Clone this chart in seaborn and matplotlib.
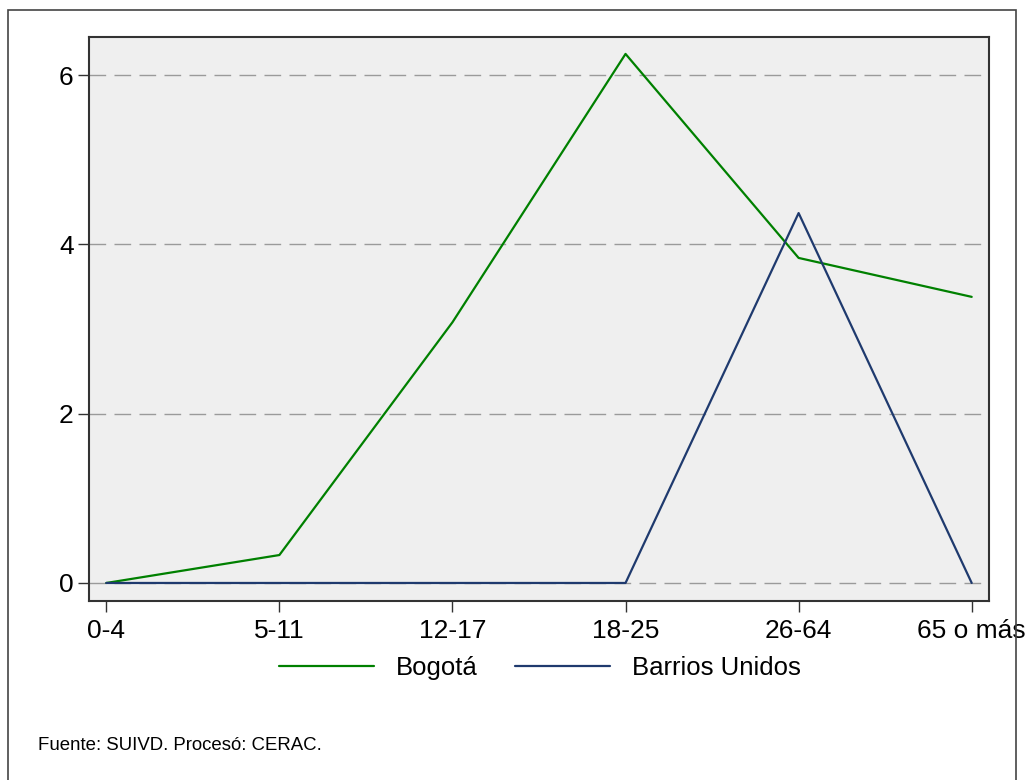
import matplotlib
matplotlib.use('Agg')

import matplotlib.pyplot as plt
import matplotlib.patches as mpatches
import pandas as pd
import seaborn as sns

# =========================================================
# DATA
# =========================================================

age_groups = ['0-4', '5-11', '12-17', '18-25', '26-64', '65 o más']
bogota = [0.0, 0.33, 3.08, 6.25, 3.84, 3.38]
barrios_unidos = [0.0, 0.0, 0.0, 0.0, 4.37, 0.0]
series_names = ['Bogotá', 'Barrios Unidos']
series_colors = ['#008000', '#1f3a6e']
y_ticks = [0, 2, 4, 6]
source_note = 'Fuente: SUIVD. Procesó: CERAC.'

df = pd.DataFrame({
    'pos': list(range(len(age_groups))) * 2,
    'valor': bogota + barrios_unidos,
    'serie': [series_names[0]] * len(age_groups) + [series_names[1]] * len(age_groups),
})

# =========================================================
# STYLE
# =========================================================

sns.set_theme(style='white')
plt.rcParams['font.family'] = ['Liberation Sans', 'DejaVu Sans']
plt.rcParams['text.color'] = 'black'

W, H = 1030, 780
fig = plt.figure(figsize=(W / 100, H / 100), dpi=100)
fig.patch.set_facecolor('white')

ax = fig.add_axes([89 / W, 1 - 601 / H, 900 / W, 564 / H])
ax.set_facecolor('#efefef')

sns.lineplot(
    data=df, x='pos', y='valor', hue='serie',
    hue_order=series_names, palette=series_colors,
    linewidth=1.6, ax=ax, legend=False, zorder=3
)

ax.set_xlim(-0.1, 5.1)
ax.set_ylim(-0.213, 6.45)
ax.set_xticks(range(len(age_groups)))
ax.set_xticklabels(age_groups)
ax.set_yticks(y_ticks)
ax.set_xlabel('')
ax.set_ylabel('')

for yv in y_ticks:
    ax.axhline(yv, color='#9a9a9a', linewidth=1.0, linestyle=(0, (12, 6)), zorder=1)

for sp in ax.spines.values():
    sp.set_visible(True)
    sp.set_color('#333333')
    sp.set_linewidth(1.5)

ax.tick_params(axis='both', which='major', direction='out', length=8, width=1.0,
               color='#333333', labelsize=19, labelcolor='black', pad=6,
               bottom=True, left=True)
ax.tick_params(axis='x', pad=5)
ax.tick_params(axis='y', pad=3)

# legend
handles = [plt.Line2D([], [], color=c, linewidth=1.6) for c in series_colors]
leg = fig.legend(handles, series_names, loc='center', bbox_to_anchor=(0.524, 1 - 668 / H),
                 ncol=2, frameon=False, fontsize=18.5, handlelength=3.7,
                 handletextpad=0.85, columnspacing=1.45)
for t in leg.get_texts():
    t.set_color('black')

# source note
fig.text(38 / W, 1 - 746 / H, source_note, fontsize=13.4, ha='left', va='center', color='black')

# outer frame
frame = mpatches.Rectangle((8 / W, -0.05), (1016 - 8) / W, 1 - 10 / H + 0.05,
                           transform=fig.transFigure, fill=False,
                           edgecolor='#444444', linewidth=1.2, clip_on=False)
fig.patches.append(frame)

fig.savefig('out.png', dpi=100)
plt.close(fig)
